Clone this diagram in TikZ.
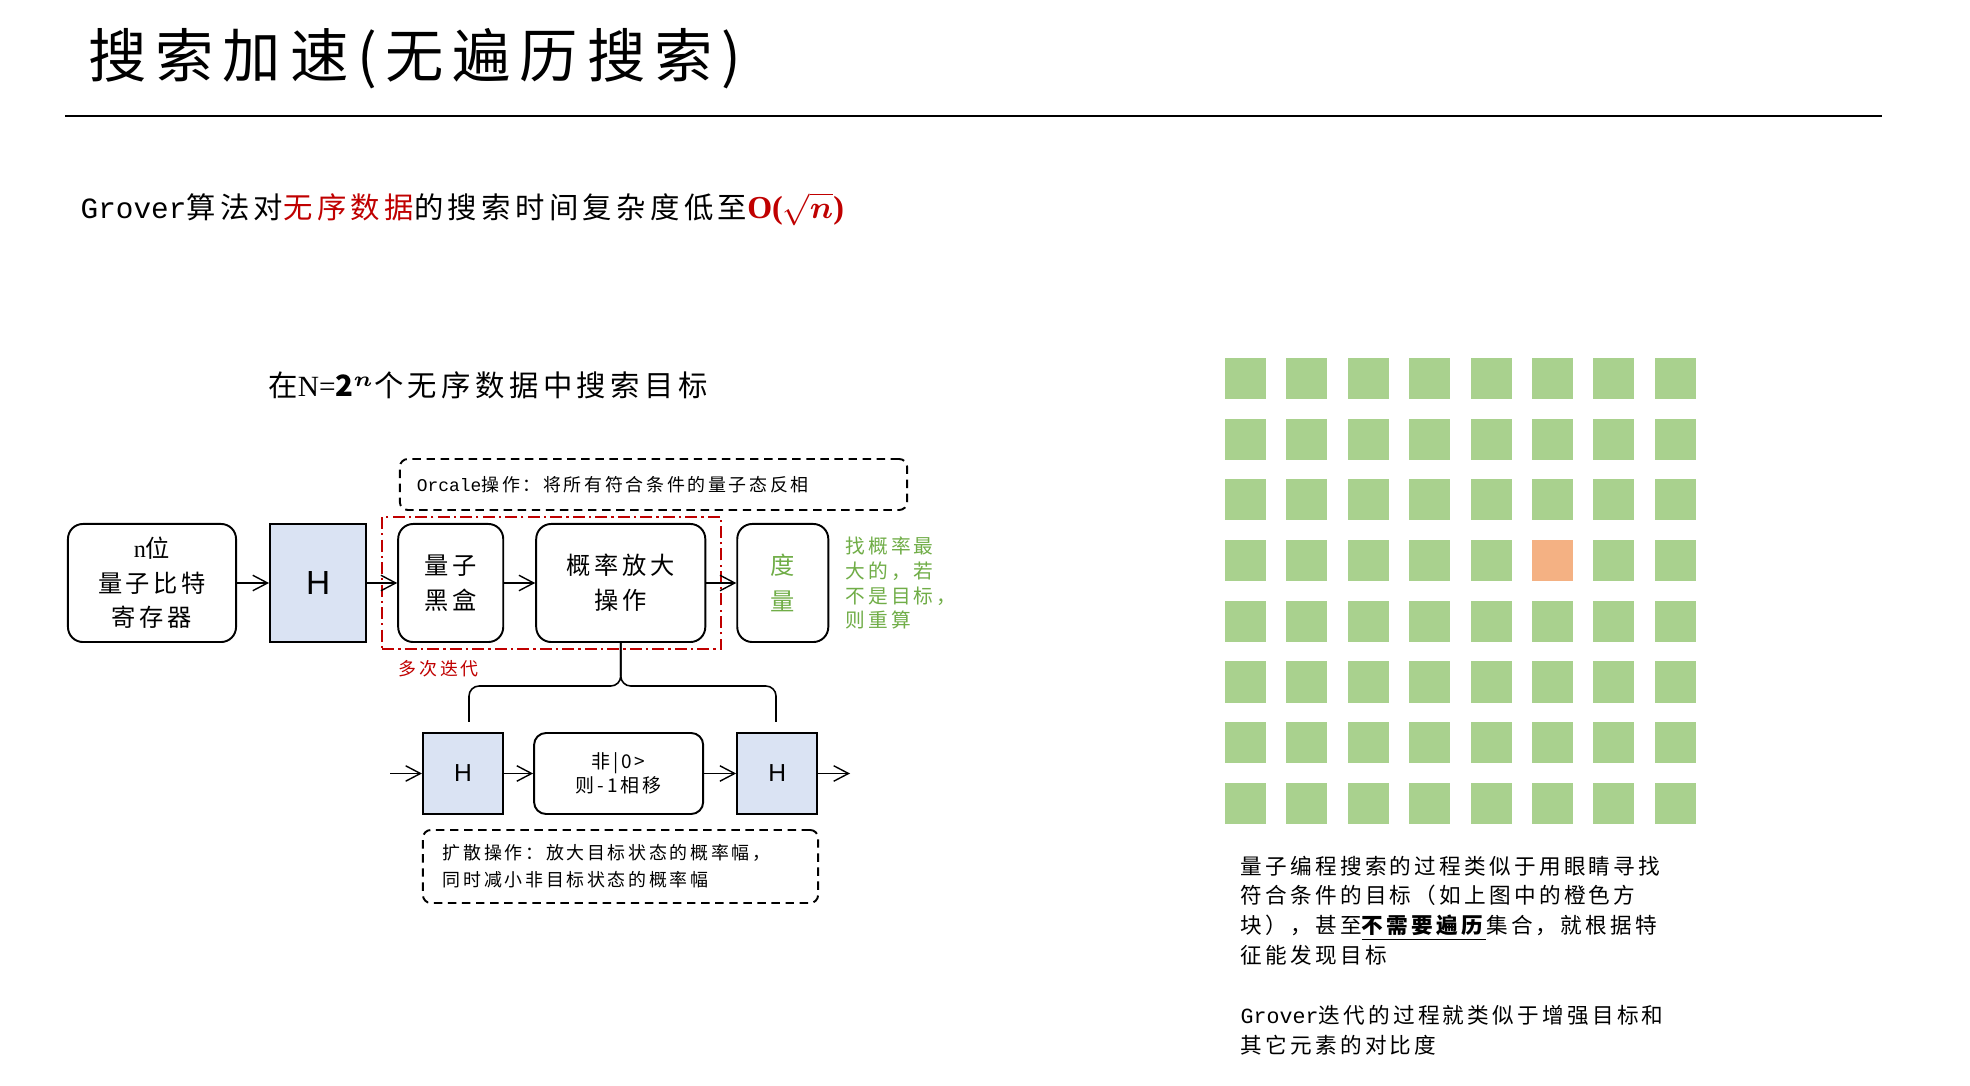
\documentclass[tikz,border=0pt]{standalone}
\usepackage{amsmath}
\usepackage{fontspec}
\setmainfont{Noto Sans CJK SC}[LetterSpace=15]
\setsansfont{Liberation Sans}
\newfontfamily\latinmono{Liberation Mono}
\newfontfamily\latinserif{Liberation Serif}
\usepackage{tikz}
\usetikzlibrary{arrows.meta, positioning, fit}
\definecolor{hblue}{RGB}{218,227,243}
\definecolor{sqgreen}{RGB}{169,209,142}
\definecolor{sqorange}{RGB}{244,177,131}
\definecolor{darkred}{RGB}{192,0,0}
\definecolor{notegreen}{RGB}{112,173,71}
\newcommand{\hdfont}{\fontsize{16.6pt}{18pt}\selectfont}
\newcommand{\leadfont}{\fontsize{8.35pt}{10pt}\selectfont}
\newcommand{\boxfont}{\fontsize{6.9pt}{9.8pt}\selectfont}
\newcommand{\notefont}{\fontsize{5.1pt}{7.7pt}\selectfont}
\newcommand{\gnotefont}{\fontsize{5.6pt}{7.1pt}\selectfont}
\newcommand{\parafont}{\fontsize{6.15pt}{8.5pt}\selectfont}
\tikzset{
  rbox/.style={rectangle, draw=black, line width=0.55pt, rounded corners=0.15cm,
    align=center, inner sep=0pt, font=\boxfont},
  gate/.style={rectangle, draw=black, fill=hblue, line width=0.6pt, inner sep=0pt},
  note/.style={rectangle, draw=black, line width=0.55pt, dash pattern=on 2.4pt off 1.6pt,
    rounded corners=0.08cm, align=left, inner ysep=0pt, font=\notefont},
  iterbox/.style={rectangle, draw=darkred, line width=0.55pt,
    dash pattern=on 3.4pt off 1.2pt on 0.6pt off 1.2pt},
  arrow/.style={-{Straight Barb[length=4.2pt,width=4.4pt]}, line width=0.4pt},
  line/.style={line width=0.45pt},
  sq/.style={rectangle, minimum size=0.41cm, inner sep=0pt}
}
\begin{document}
\begin{tikzpicture}[x=0.01cm, y=-0.01cm]
  \path[use as bounding box, fill=white] (0,0) rectangle (1970,1086);

  \node[anchor=west, inner sep=0pt, font=\hdfont] (ttl) at (88,59) {搜索加速(无遍历搜索)};
  \draw[line width=0.6pt] (65,116) -- (1882,116);
  \node[anchor=west, inner sep=0pt, font=\leadfont] (lead) at (80,209)
    {{\latinmono Grover}算法对{\color{darkred}无序数据}的搜索时间复杂度低至{\color{darkred}\fontsize{9.1pt}{10pt}\selectfont{\latinserif\bfseries O(}$\sqrt{\boldsymbol{n}}${\latinserif\bfseries )}}};

  % circuit
  \node[font=\leadfont, inner sep=0pt] (dtitle) at (488,385)
    {在{\latinserif N=}$\mathbf{2}^{\boldsymbol{n}}$个无序数据中搜索目标};
  \node[rbox, minimum width=1.68cm, minimum height=1.18cm] (reg) at (152,583)
    {{\latinserif n}位\\量子比特\\寄存器};
  \node[gate, minimum width=0.96cm, minimum height=1.18cm, right=0.32cm of reg,
    font=\sffamily\fontsize{9.5pt}{10pt}\selectfont] (hA) {H};
  \node[rbox, minimum width=1.05cm, minimum height=1.18cm, right=0.30cm of hA,
    font=\fontsize{6.9pt}{10pt}\selectfont] (bbox) {量子\\黑盒};
  \node[rbox, minimum width=1.69cm, minimum height=1.18cm, right=0.31cm of bbox,
    font=\fontsize{6.9pt}{10pt}\selectfont] (amp) {概率放大\\操作};
  \node[rbox, minimum width=0.91cm, minimum height=1.18cm, right=0.30cm of amp,
    text=notegreen, font=\fontsize{6.9pt}{10pt}\selectfont] (meas) {度\\量};
  \node[right=0.16cm of meas, inner sep=0pt, align=left, text=notegreen, font=\gnotefont] (gnote)
    {找概率最\\大的，若\\不是目标，\\则重算};
  \node[note, minimum height=0.51cm, text width=4.73cm, inner xsep=0.17cm] (orc) at (653.5,484.5)
    {{\latinmono Orcale}操作：将所有符合条件的量子态反相};
  \node[iterbox, fit=(bbox)(amp), inner xsep=0.15cm, inner ysep=0.06cm] (iter) {};
  \node[anchor=west, inner sep=0pt, text=darkred, font=\notefont] (many)
    at ([xshift=0.17cm, yshift=-0.19cm]iter.south west) {多次迭代};

  \draw[arrow] (reg) -- (hA);
  \draw[arrow] (hA) -- (bbox);
  \draw[arrow] (bbox) -- (amp);
  \draw[arrow] (amp) -- (meas);

  % diffusion
  \node[gate, minimum width=0.80cm, minimum height=0.81cm,
    font=\sffamily\fontsize{7pt}{8pt}\selectfont] (hB) at (463,773.5) {H};
  \node[rbox, minimum width=1.69cm, minimum height=0.81cm, rounded corners=0.12cm, right=0.29cm of hB,
    font=\fontsize{5.4pt}{6.8pt}\selectfont] (ph) {非|0>\\则-1相移};
  \node[gate, minimum width=0.80cm, minimum height=0.81cm, right=0.32cm of ph,
    font=\sffamily\fontsize{7pt}{8pt}\selectfont] (hC) {H};
  \coordinate (din) at (390,773.5);
  \coordinate (dout) at (850,773.5);
  \draw[arrow] (din) -- (hB);
  \draw[arrow] (hB) -- (ph);
  \draw[arrow] (ph) -- (hC);
  \draw[arrow] (hC) -- (dout);
  \coordinate (bl) at (469,722);
  \coordinate (br) at (776,722);
  \draw[line, rounded corners=0.1cm] (bl) |- ([yshift=-0.43cm]amp.south) -- (amp.south);
  \draw[line, rounded corners=0.1cm] (br) |- ([yshift=-0.43cm]amp.south) -- (amp.south);
  \node[note, minimum height=0.73cm, text width=3.55cm, inner xsep=0.2cm] (diff) at (620.5,866.5)
    {扩散操作：放大目标状态的概率幅，\\同时减小非目标状态的概率幅};

  % grid of items
  \foreach \i in {0,...,7}{
    \foreach \j in {0,...,7}{
      \def\sqc{sqgreen}
      \ifnum\i=5 \ifnum\j=3 \def\sqc{sqorange}\fi\fi
      \node[sq, fill=\sqc] (s\i\j) at (1245.5+61.4*\i, 378.5+60.7*\j) {};
    }
  }
  \node[anchor=north west, inner sep=0pt, align=left, font=\parafont] (para) at (1240,855)
    {量子编程搜索的过程类似于用眼睛寻找\\
     符合条件的目标（如上图中的橙色方\\
     块），甚至\underline{\textbf{不需要遍历}}集合，就根据特\\
     征能发现目标\\[8.5pt]
     {\latinmono Grover}迭代的过程就类似于增强目标和\\
     其它元素的对比度};
\end{tikzpicture}
\end{document}
